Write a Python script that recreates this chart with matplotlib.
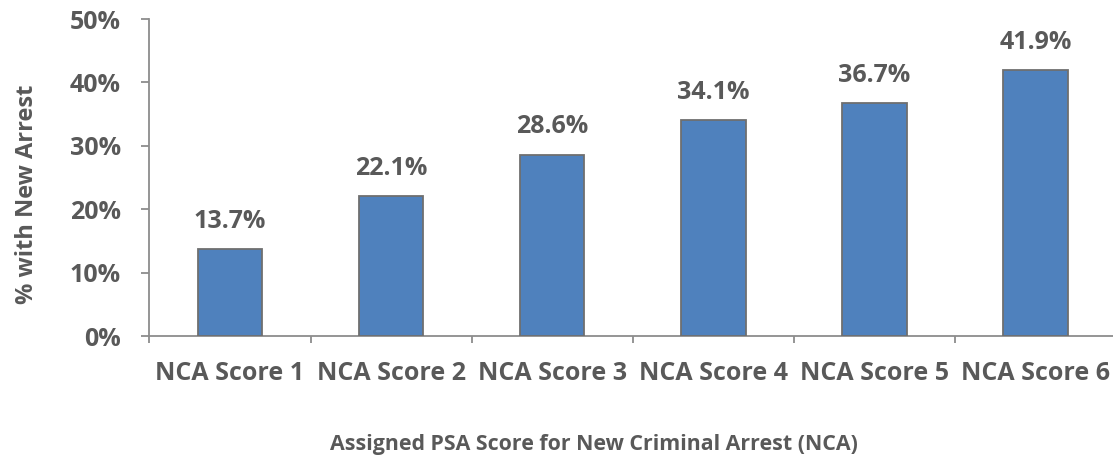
import matplotlib
matplotlib.use("Agg")
import matplotlib.pyplot as plt
import numpy as np
from matplotlib.ticker import FixedLocator

categories = ["NCA Score 1", "NCA Score 2", "NCA Score 3", "NCA Score 4", "NCA Score 5", "NCA Score 6"]
values = [13.7, 22.1, 28.6, 34.1, 36.7, 41.9]
yticks = [0, 10, 20, 30, 40, 50]

plt.rcParams['font.family'] = ['Open Sans', 'DejaVu Sans']
txt = '#595959'
axc = '#8c8c8c'

fig = plt.figure(figsize=(11.13, 4.55), dpi=100)
ax = fig.add_axes([0.1343, 0.2615, 1.0027 - 0.1343, 0.9582 - 0.2615])
x = np.arange(len(categories))
ax.bar(x, values, width=0.4, color='#4F81BD', edgecolor='#6f6f6f', linewidth=1.3, zorder=3)
for xi, v in zip(x, values):
    ax.annotate(f"{v:.1f}%", (xi, v), xytext=(0, 11), textcoords='offset points',
                ha='center', va='bottom', fontsize=18, fontweight='bold', color=txt)

ax.set_xlim(-0.5, len(categories) - 0.5)
ax.set_ylim(0, 50)
ax.set_yticks(yticks)
ax.set_yticklabels([f"{t}%" for t in yticks])
ax.set_xticks(x)
ax.set_xticklabels(categories)
ax.xaxis.set_minor_locator(FixedLocator(np.arange(-0.5, len(categories), 1.0)))
ax.tick_params(axis='x', which='major', length=0, pad=18, labelsize=18, labelcolor=txt)
ax.tick_params(axis='x', which='minor', length=5, width=1.3, color=axc, direction='out')
ax.tick_params(axis='y', length=6, width=1.3, color=axc, pad=14.5, labelsize=18, labelcolor=txt)
for lab in ax.get_xticklabels() + ax.get_yticklabels():
    lab.set_fontweight('bold')
for s in ['top', 'right']:
    ax.spines[s].set_visible(False)
for s in ['left', 'bottom']:
    ax.spines[s].set_color(axc)
    ax.spines[s].set_linewidth(1.3)

ax.set_ylabel("% with New Arrest", fontsize=17, fontweight='bold', color=txt)
ax.yaxis.set_label_coords(-0.114, 0.446)
ax.set_xlabel("Assigned PSA Score for New Criminal Arrest (NCA)", fontsize=15.4, fontweight='bold', color=txt)
ax.xaxis.set_label_coords(0.46, -0.31)

fig.savefig("out.png", dpi=100)
